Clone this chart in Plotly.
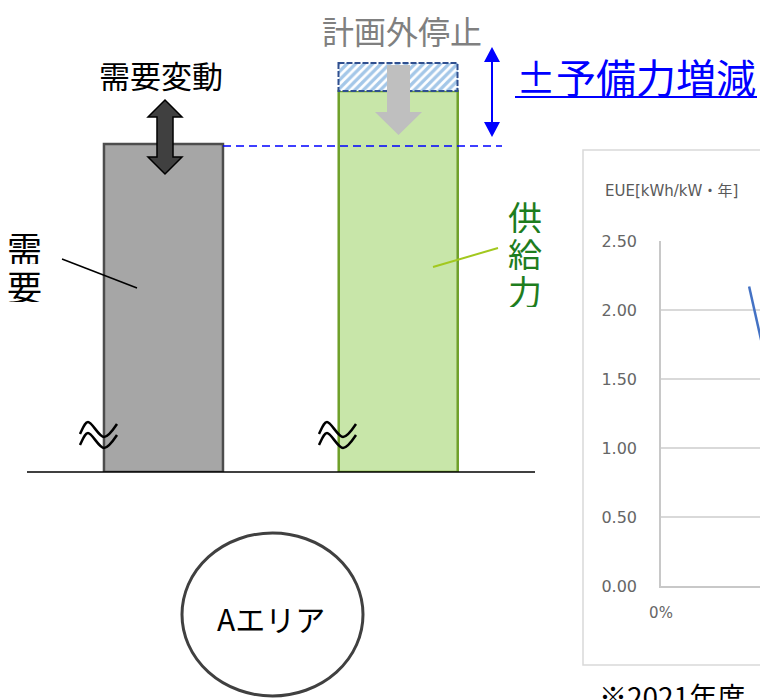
import plotly.graph_objects as go

JP = "Noto Sans CJK JP"

# ---- schematic bars (units: height above the baseline) ----
bar_names = ["需要", "供給力"]
bar_heights = [328, 381]
outage_height = [28]

# ---- EUE curve (reserve margin %, EUE kWh/kW-year) ----
eue_reserve = [2.67, 3.30]
eue_values = [2.17, 1.50]
eue_ticks = [0.0, 0.5, 1.0, 1.5, 2.0, 2.5]
eue_xticks = [0]
eue_xtick_text = ["0%"]

BASE = 472  # baseline row of the schematic, in page pixels


def Y(px):
    """Page pixel row -> main overlay axis value."""
    return BASE - px


def path(points, close=True):
    s = "M " + " L ".join(f"{x},{Y(y)}" for x, y in points)
    return s + (" Z" if close else "")


def curve(p0, segs):
    s = f"M {p0[0]},{Y(p0[1])}"
    for c1, c2, e in segs:
        s += f" C {c1[0]},{Y(c1[1])} {c2[0]},{Y(c2[1])} {e[0]},{Y(e[1])}"
    return s


fig = go.Figure()

# demand / supply bars
fig.add_trace(go.Bar(
    x=bar_names, y=bar_heights, xaxis="x3", yaxis="y3", width=0.507,
    marker=dict(color=["#a6a6a6", "#c8e6a9"],
                line=dict(color=["#4d4d4d", "#6fa02a"], width=2.5)),
    hoverinfo="skip"))
# unplanned-outage slice on top of supply
fig.add_trace(go.Bar(
    x=[bar_names[1]], y=outage_height, base=[bar_heights[1]],
    xaxis="x3", yaxis="y3", width=0.507,
    marker=dict(color="white",
                pattern=dict(shape="/", fgcolor="#4a90d2", bgcolor="white",
                             size=6, solidity=0.55),
                line=dict(width=0)),
    hoverinfo="skip"))

# EUE curve
fig.add_trace(go.Scatter(
    x=eue_reserve, y=eue_values, xaxis="x2", yaxis="y2", mode="lines",
    line=dict(color="#4472c4", width=2.5), hoverinfo="skip"))

demand_top = BASE - bar_heights[0]
supply_top = BASE - bar_heights[1]
outage_top = BASE - (bar_heights[1] + outage_height[0])

shapes = []
# baseline
shapes.append(dict(type="line", x0=27, x1=535, y0=Y(472), y1=Y(472),
                   line=dict(color="black", width=1.5)))
# outage slice outline
shapes.append(dict(type="rect", x0=338.5, x1=457.5, y0=Y(outage_top), y1=Y(supply_top),
                   line=dict(color="#2f4f8f", width=2, dash="6px,2px")))
# dashed level line from the demand top
shapes.append(dict(type="line", x0=223, x1=502, y0=Y(demand_top + 2), y1=Y(demand_top + 2),
                   line=dict(color="#0000ff", width=1.5, dash="8px,5px")))
# blue double arrow
shapes.append(dict(type="line", x0=492, x1=492, y0=Y(58), y1=Y(126),
                   line=dict(color="#0000ff", width=2)))
shapes.append(dict(type="path", path=path([(492, 47), (500, 62), (484, 62)]),
                   fillcolor="#0000ff", line=dict(width=0)))
shapes.append(dict(type="path", path=path([(492, 137), (500, 122), (484, 122)]),
                   fillcolor="#0000ff", line=dict(width=0)))
# underline of the reserve label
shapes.append(dict(type="line", x0=515, x1=757, y0=Y(97), y1=Y(97),
                   line=dict(color="#0000ff", width=2)))
# demand fluctuation block arrow
shapes.append(dict(type="path", path=path([
    (165, 100), (182, 117), (173, 117), (173, 157), (182, 157), (165, 174),
    (148, 157), (157, 157), (157, 117), (148, 117)]),
    fillcolor="#404040", line=dict(color="black", width=1.5)))
# grey down arrow (unplanned outage)
shapes.append(dict(type="path", path=path([
    (387, 65), (410, 65), (410, 112), (422, 112), (398.5, 135), (375, 112), (387, 112)]),
    fillcolor="#bfbfbf", line=dict(width=0)))
# leader lines
shapes.append(dict(type="line", x0=62, x1=137, y0=Y(259), y1=Y(288),
                   line=dict(color="black", width=1.5)))
shapes.append(dict(type="line", x0=433, x1=498, y0=Y(267), y1=Y(248),
                   line=dict(color="#a2c81e", width=2)))
# axis-break marks
for dx in (0, 239):
    for dy in (0, 11):
        shapes.append(dict(type="path", path=curve(
            (80 + dx, 434 + dy),
            [((83 + dx, 428 + dy), (85 + dx, 422 + dy), (88 + dx, 422 + dy)),
             ((92 + dx, 422 + dy), (99 + dx, 437 + dy), (104 + dx, 437 + dy)),
             ((108 + dx, 437 + dy), (113 + dx, 430 + dy), (117 + dx, 424 + dy))]),
            line=dict(color="black", width=2.5)))
# area circle
shapes.append(dict(type="circle", x0=182, x1=363, y0=Y(696), y1=Y(533),
                   line=dict(color="#404040", width=3), fillcolor="white", layer="below"))
# EUE chart frame
shapes.append(dict(type="rect", x0=583, x1=800, y0=Y(665), y1=Y(150),
                   line=dict(color="#d9d9d9", width=1.5), layer="below"))


def label(text, x, y_px, size, color, xanchor="center", height=None, family=JP):
    a = dict(text=text, x=x, y=Y(y_px), xref="x", yref="y", showarrow=False,
             xanchor=xanchor, yanchor="middle",
             font=dict(family=family, size=size, color=color))
    if height:
        a["height"] = height
    return a


annotations = [
    label("需要変動", 161, 74, 31, "black"),
    label("計画外停止", 402, 30, 32, "#808080"),
    label("±予備力増減", 636, 76, 40, "#0000ff"),
    label("需", 24, 247, 35, "black", height=34),
    label("要", 24, 285, 35, "black", height=34),
    label("供", 525, 216, 34, "#1e7d1e", height=34),
    label("給", 525, 253, 34, "#1e7d1e", height=34),
    label("力", 525, 290, 34, "#1e7d1e", height=34),
    label("Aエリア", 271, 618, 30, "black"),
    label("※2021年度", 597, 696, 28, "black", xanchor="left"),
    label("EUE[kWh/kW・年]", 603, 191, 15, "#595959", xanchor="left",
          family="DejaVu Sans, Noto Sans CJK JP"),
]

W, H = 760, 700
hidden = dict(visible=False, fixedrange=True, automargin=False)
fig.update_layout(
    width=W, height=H, margin=dict(l=0, r=0, t=0, b=0, pad=0, autoexpand=False),
    paper_bgcolor="white", plot_bgcolor="rgba(0,0,0,0)",
    showlegend=False, barmode="overlay",
    shapes=shapes, annotations=annotations,
    xaxis=dict(range=[0, W], domain=[0, 1], **hidden),
    yaxis=dict(range=[Y(H), Y(0)], domain=[0, 1], **hidden),
    xaxis3=dict(type="category", categoryorder="array", categoryarray=bar_names,
                range=[-0.5, 1.5], domain=[46.1 / W, 515.6 / W],
                anchor="y3", **hidden),
    yaxis3=dict(range=[0, BASE], domain=[(H - BASE) / H, 1],
                anchor="x3", **hidden),
    xaxis2=dict(range=[0, 3], domain=[661 / W, 1], anchor="y2", automargin=False,
                tickvals=eue_xticks, ticktext=eue_xtick_text,
                showgrid=False, zeroline=False,
                showline=True, linecolor="#c8c8c8", linewidth=1.5,
                ticks="outside", ticklen=12, tickcolor="rgba(0,0,0,0)",
                tickfont=dict(family="DejaVu Sans", size=15, color="#666666"),
                fixedrange=True),
    yaxis2=dict(range=[0, 2.5], domain=[114 / H, 459 / H], anchor="x2", automargin=False,
                tickvals=eue_ticks, tickformat=".2f",
                showgrid=True, gridcolor="#d9d9d9", gridwidth=1.5, zeroline=False,
                showline=True, linecolor="#c8c8c8", linewidth=1.5,
                ticks="outside", ticklen=19, tickcolor="rgba(0,0,0,0)",
                tickfont=dict(family="DejaVu Sans", size=16, color="#666666"),
                fixedrange=True),
)

fig.write_html("out.html")
